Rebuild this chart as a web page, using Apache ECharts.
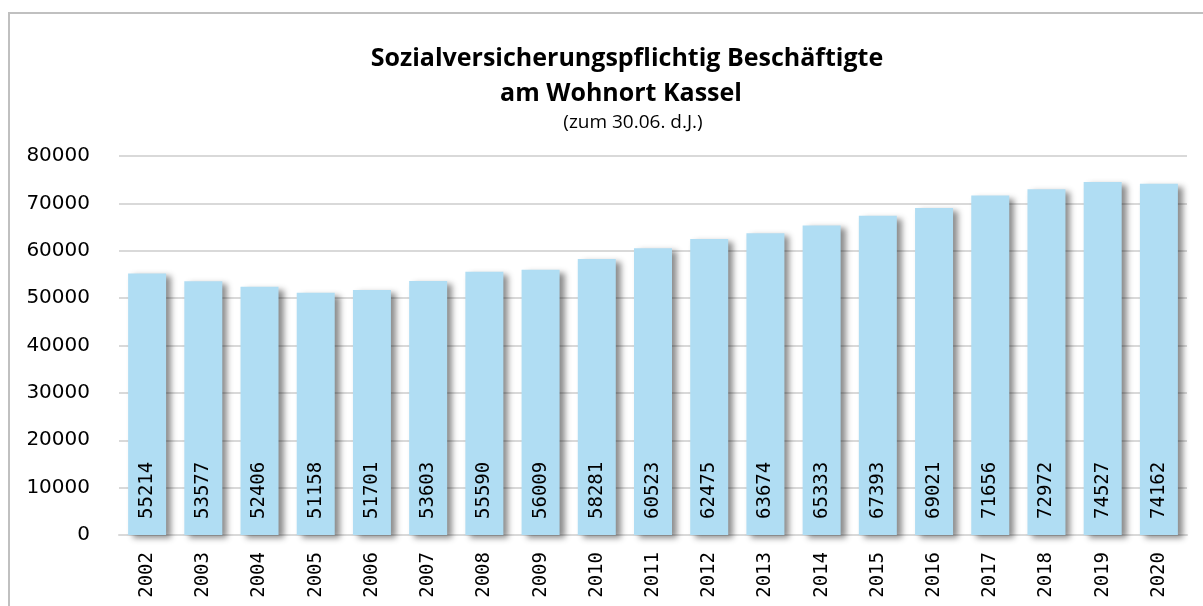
<!DOCTYPE html>
<html>
<head>
<meta charset="utf-8">
<script src="https://cdn.jsdelivr.net/npm/echarts@6/dist/echarts.min.js"></script>
<style>
  html, body { margin: 0; padding: 0; background: #fff; }
  #chart { width: 1203px; height: 606px; }
</style>
</head>
<body>
<div id="chart"></div>
<script>
// Employees subject to social insurance living in Kassel, as of 30 June each year
const years = ['2002','2003','2004','2005','2006','2007','2008','2009','2010','2011',
               '2012','2013','2014','2015','2016','2017','2018','2019','2020'];
const employees = [55214, 53577, 52406, 51158, 51701, 53603, 55590, 56009, 58281, 60523,
                   62475, 63674, 65333, 67393, 69021, 71656, 72972, 74527, 74162];
const titleLines = ['Sozialversicherungspflichtig Beschäftigte', 'am Wohnort Kassel'];
const subtitle = '(zum 30.06. d.J.)';

const chart = echarts.init(document.getElementById('chart'), null, { renderer: 'canvas' });

chart.setOption({
  animation: false,
  backgroundColor: '#ffffff',
  graphic: [{
    type: 'polyline',
    shape: { points: [[9, 606], [9, 13], [1203, 13]] },
    style: { stroke: '#c0c0c0', lineWidth: 2, fill: null },
    silent: true
  }],
  title: [
    {
      text: titleLines[0], left: 622, top: 41, textAlign: 'center',
      textStyle: { fontFamily: 'Open Sans', fontWeight: 'bold', fontSize: 25, color: '#000' }
    },
    {
      text: titleLines[1], left: 616, top: 76, textAlign: 'center',
      textStyle: { fontFamily: 'Open Sans', fontWeight: 'bold', fontSize: 25, color: '#000' }
    },
    {
      text: subtitle, left: 628, top: 108, textAlign: 'center',
      textStyle: { fontFamily: 'Open Sans', fontWeight: 'normal', fontSize: 19, color: '#000' }
    }
  ],
  grid: { left: 119, right: 16, top: 156, bottom: 71, containLabel: false },
  xAxis: {
    type: 'category',
    data: years,
    axisLine: { lineStyle: { color: '#d9d9d9', width: 2 } },
    axisTick: { show: false },
    axisLabel: {
      rotate: 90, margin: 17, color: '#000',
      fontFamily: 'DejaVu Sans Mono', fontSize: 19
    }
  },
  yAxis: {
    type: 'value',
    min: 0, max: 80000, interval: 10000,
    axisLine: { show: false },
    axisTick: { show: false },
    splitLine: { lineStyle: { color: '#d9d9d9', width: 2 } },
    axisLabel: {
      margin: 29, color: '#000',
      fontFamily: 'DejaVu Sans', fontSize: 20,
      formatter: (v) => String(v)
    }
  },
  series: [{
    type: 'bar',
    data: employees,
    barWidth: 38,
    itemStyle: {
      color: '#b0ddf3',
      shadowColor: 'rgba(0,0,0,0.45)',
      shadowBlur: 6,
      shadowOffsetX: 5,
      shadowOffsetY: 3
    },
    label: {
      show: true,
      position: 'insideBottom',
      rotate: 90,
      align: 'left',
      verticalAlign: 'middle',
      distance: 16,
      color: '#000',
      fontFamily: 'DejaVu Sans Mono',
      fontSize: 19
    }
  }]
});
</script>
</body>
</html>
